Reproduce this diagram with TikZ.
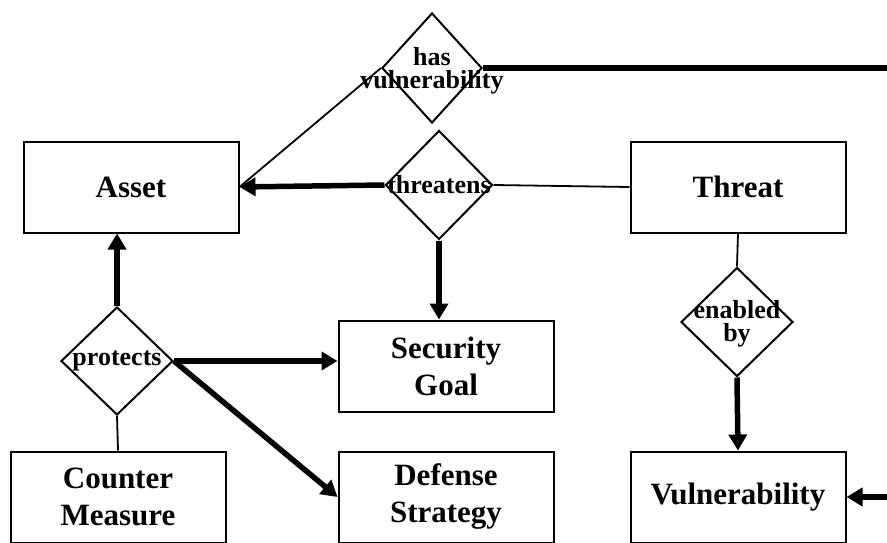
\documentclass[tikz,border=0pt]{standalone}
\usepackage{fontspec}
\setmainfont{Liberation Serif}
\usetikzlibrary{shapes.geometric,arrows.meta,calc}

\tikzset{
  entity/.style={draw, line width=2pt, rectangle, minimum width=215pt, minimum height=91pt,
                 inner sep=0pt, align=center, font=\bfseries\fontsize{31}{37}\selectfont},
  relation/.style={draw, line width=2pt, diamond, inner sep=0pt},
  reltext/.style={inner sep=0pt, align=center, font=\bfseries\fontsize{26}{23}\selectfont},
  thin link/.style={line width=1.8pt},
  thick link/.style={line width=5.5pt, -{Triangle[length=16pt,width=18pt]}}
}

\begin{document}
\begin{tikzpicture}[x=1pt,y=-1pt]
\path[use as bounding box, clip] (0,0) rectangle (887,543);
\fill[white] (0,0) rectangle (887,543);

% entities
\node[entity] (asset)  at (131,187) {Asset};
\node[entity] (threat) at (738,187) {Threat};
\node[entity] (goal)   at (446,366) {Security\\Goal};
\node[entity] (cm)     at (118,497) {Counter\\Measure};
\node[entity] (ds)     at (446,497) {Defense\\Strategy};
\node[entity] (vuln)   at (738,497) {Vulnerability};

% relationships
\node[relation, minimum width=100pt, minimum height=110pt] (hv)   at (432,68)  {};
\node[relation, minimum width=107pt, minimum height=109pt] (thr)  at (439,185) {};
\node[relation, minimum width=112pt, minimum height=108pt] (prot) at (117,361) {};
\node[relation, minimum width=112pt, minimum height=109pt] (enab) at (737,322) {};

\node[reltext] (hvt)   at ([yshift=-3pt]hv.center) {has\\vulnerability};
\node[reltext] (thrt)  at (thr)  {threatens};
\node[reltext] (prott) at (prot) {protects};
\node[reltext] (enabt) at ([yshift=-2pt]enab.center) {enabled\\by};

% route of the vulnerability link, outside the frame on the right
\coordinate (outA) at (905,68);
\coordinate (outB) at (905,497);

% connectors
\draw[thin link] (hv.west) -- (asset.east);
\draw[thick link] (hv.east) -- (outA) -- (outB) -- (vuln.east);
\draw[thick link] (thr.west) -- (asset.east);
\draw[thin link] (thr.east) -- (threat.west);
\draw[thick link] (thr.south) -- (thr.south |- goal.north);
\draw[thin link] (threat.south) -- (enab.north);
\draw[thick link] (enab.south) -- (vuln.north);
\draw[thick link] (prot.north) -- (prot.north |- asset.south);
\draw[thick link] (prot.east) -- (prot.east -| goal.west);
\draw[thick link] (prot.east) -- (ds.west);
\draw[thin link] (cm.north) -- (prot.south);
\end{tikzpicture}
\end{document}
